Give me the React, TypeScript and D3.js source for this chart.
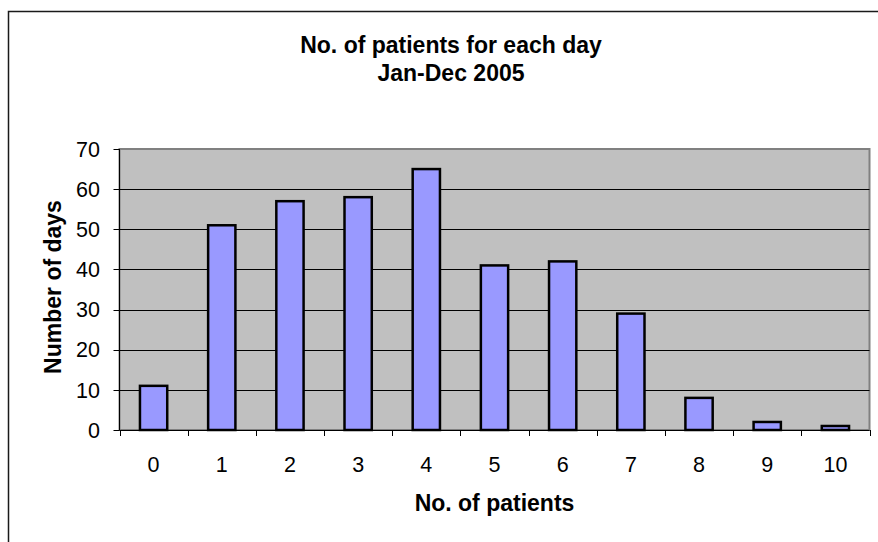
import React, { useEffect, useRef } from "react";
import * as d3 from "d3";

// Number of patients seen per day (x) and how many days had that count (y)
const patientCounts = ["0", "1", "2", "3", "4", "5", "6", "7", "8", "9", "10"];
const dayCounts = [11, 51, 57, 58, 65, 41, 42, 29, 8, 2, 1];
const yTicks = [0, 10, 20, 30, 40, 50, 60, 70];

const titleLines = ["No. of patients for each day", "Jan-Dec 2005"];
const xTitle = "No. of patients";
const yTitle = "Number of days";

const W = 878;
const H = 542;
const FONT = "'Liberation Sans', Arial, Helvetica, sans-serif";

export default function App() {
  const ref = useRef<SVGSVGElement>(null);

  useEffect(() => {
    const svg = d3.select(ref.current);
    svg.selectAll("*").remove();

    const plot = { left: 119.5, right: 869.5, top: 149, bottom: 430 };

    const x = d3
      .scaleBand<string>()
      .domain(patientCounts)
      .range([plot.left, plot.right])
      .paddingInner(0.6)
      .paddingOuter(0.3);
    const step = (plot.right - plot.left) / patientCounts.length;

    const y = d3.scaleLinear().domain([0, 70]).range([plot.bottom, plot.top]);

    // chart area frame
    svg
      .append("rect")
      .attr("x", 8.5)
      .attr("y", 11.5)
      .attr("width", 900)
      .attr("height", 560)
      .attr("fill", "#fff")
      .attr("stroke", "#1a1a1a")
      .attr("stroke-width", 1.5);

    // plot background
    svg
      .append("rect")
      .attr("x", plot.left)
      .attr("y", plot.top)
      .attr("width", plot.right - plot.left)
      .attr("height", plot.bottom - plot.top)
      .attr("fill", "#C0C0C0")
      .attr("stroke", "#808080")
      .attr("stroke-width", 2);

    // gridlines
    svg
      .append("g")
      .selectAll("line")
      .data(yTicks.filter((t) => t > 0 && t < 70))
      .join("line")
      .attr("x1", plot.left)
      .attr("x2", plot.right)
      .attr("y1", (d) => Math.round(y(d)) + 0.5)
      .attr("y2", (d) => Math.round(y(d)) + 0.5)
      .attr("stroke", "#000")
      .attr("stroke-width", 1);

    // bars
    svg
      .append("g")
      .selectAll("rect")
      .data(dayCounts)
      .join("rect")
      .attr("x", (_, i) => x(patientCounts[i])!)
      .attr("y", (d) => y(d))
      .attr("width", x.bandwidth())
      .attr("height", (d) => plot.bottom - y(d))
      .attr("fill", "#9999FF")
      .attr("stroke", "#000")
      .attr("stroke-width", 2.5);

    // axis lines
    svg
      .append("line")
      .attr("x1", plot.left)
      .attr("x2", plot.left)
      .attr("y1", plot.top)
      .attr("y2", plot.bottom)
      .attr("stroke", "#000");
    svg
      .append("line")
      .attr("x1", plot.left)
      .attr("x2", plot.right)
      .attr("y1", plot.bottom + 0.5)
      .attr("y2", plot.bottom + 0.5)
      .attr("stroke", "#000");

    // y ticks + labels
    const yg = svg.append("g");
    yg.selectAll("line")
      .data(yTicks)
      .join("line")
      .attr("x1", plot.left - 6)
      .attr("x2", plot.left)
      .attr("y1", (d) => Math.round(y(d)) + 0.5)
      .attr("y2", (d) => Math.round(y(d)) + 0.5)
      .attr("stroke", "#000");
    yg.selectAll("text")
      .data(yTicks)
      .join("text")
      .attr("x", 100)
      .attr("y", (d) => y(d) + 7.7)
      .attr("text-anchor", "end")
      .attr("font-family", FONT)
      .attr("font-size", 21.5)
      .text((d) => d);

    // x ticks at category boundaries + labels
    const xg = svg.append("g");
    xg.selectAll("line")
      .data(d3.range(patientCounts.length + 1))
      .join("line")
      .attr("x1", (i) => Math.round(plot.left + i * step) + 0.5)
      .attr("x2", (i) => Math.round(plot.left + i * step) + 0.5)
      .attr("y1", plot.bottom)
      .attr("y2", plot.bottom + 6)
      .attr("stroke", "#000");
    xg.selectAll("text")
      .data(patientCounts)
      .join("text")
      .attr("x", (d) => x(d)! + x.bandwidth() / 2)
      .attr("y", 471.5)
      .attr("text-anchor", "middle")
      .attr("font-family", FONT)
      .attr("font-size", 21.5)
      .text((d) => d);

    // titles
    svg
      .append("g")
      .selectAll("text")
      .data(titleLines)
      .join("text")
      .attr("x", 451)
      .attr("y", (_, i) => 52.5 + i * 28)
      .attr("text-anchor", "middle")
      .attr("font-family", FONT)
      .attr("font-size", 23)
      .attr("font-weight", "bold")
      .text((d) => d);

    svg
      .append("text")
      .attr("x", (plot.left + plot.right) / 2)
      .attr("y", 511)
      .attr("text-anchor", "middle")
      .attr("font-family", FONT)
      .attr("font-size", 23)
      .attr("font-weight", "bold")
      .text(xTitle);

    svg
      .append("text")
      .attr("transform", "translate(61,287) rotate(-90)")
      .attr("text-anchor", "middle")
      .attr("font-family", FONT)
      .attr("font-size", 23)
      .attr("font-weight", "bold")
      .text(yTitle);
  }, []);

  return (
    <svg
      ref={ref}
      width={W}
      height={H}
      style={{ position: "absolute", left: 0, top: 0, background: "#fff" }}
    />
  );
}
